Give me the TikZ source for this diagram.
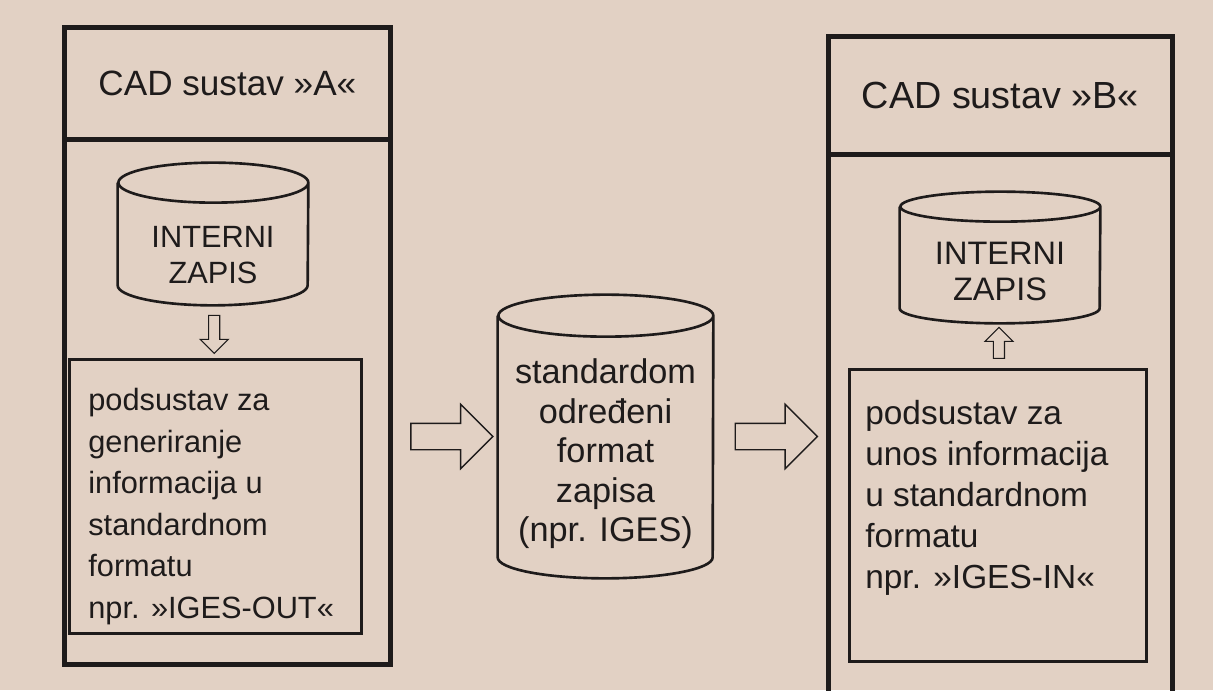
\documentclass[tikz,border=0pt]{standalone}
\usepackage{fontspec}
\setmainfont{Liberation Sans}
\usetikzlibrary{shapes.arrows,calc,positioning}
\definecolor{paper}{RGB}{226,209,196}
\definecolor{ink}{RGB}{30,27,27}

\begin{document}
\begin{tikzpicture}[
			syst/.style = {draw=ink, line width=2.7pt, anchor=north west, inner sep=0pt},
			head/.style = {draw=ink, line width=2.7pt, anchor=north, inner sep=0pt, text=ink},
			db/.style = {inner sep=0pt},
			dbline/.style = {draw=ink, line width=1.5pt},
			dbtext/.style = {align=center, inner sep=0pt, text=ink},
			sub/.style = {draw=ink, line width=1.6pt, anchor=north west, inner sep=0pt},
			subtext/.style = {align=left, anchor=north west, inner sep=0pt, text=ink},
			bigarrow/.style = {draw=ink, line width=0.8pt, single arrow, single arrow head extend=0.38cm,
				inner xsep=0pt, inner ysep=0.25cm, minimum width=0pt, minimum height=1.64cm},
			smallarrow/.style = {draw=ink, line width=0.6pt, single arrow, single arrow head extend=0.17cm,
				inner xsep=0pt, inner ysep=0.1cm, minimum width=0pt}
		]
		\useasboundingbox (0,0) rectangle (24.26,-13.8);
		\fill[paper] (0,0) rectangle (24.26,-13.8);

		% sustav A
		\node[syst, minimum width=6.52cm, minimum height=12.74cm] (sysA) at (1.24,-0.5) {};
		\node[head, minimum width=6.52cm, minimum height=2.24cm, font=\fontsize{20}{24}\selectfont] (headA) at (sysA.north) {CAD sustav »A«};
		\node[db, minimum width=3.8cm, minimum height=2.84cm] (dbA) at (4.26,-4.68) {};
		\node[dbtext, font=\fontsize{17.5}{20}\selectfont] (dbAtxt) at ([yshift=-0.42cm]dbA.center) {INTERNI\\ZAPIS};
		\node[sub, minimum width=5.84cm, minimum height=5.48cm] (outA) at (1.36,-7.16) {};
		\node[subtext, font=\fontsize{17.5}{23.6}\selectfont] (outAtxt) at ([shift={(0.4,-0.6)}]outA.north west)
			{podsustav za\\generiranje\\informacija u\\standardnom\\formatu\\npr. »IGES-OUT«};
		\node[smallarrow, minimum height=0.76cm, rotate=-90] (arA) at ($(dbA.south)!0.5!(outA.north)$) {};

		% standardni zapis
		\node[db, minimum width=4.3cm, minimum height=5.66cm] (std) at (12.11,-8.73) {};
		\node[dbtext, font=\fontsize{19.5}{22.5}\selectfont] (stdtxt) at ([yshift=-0.35cm]std.center)
			{standardom\\određeni\\format\\zapisa\\(npr. IGES)};
		\node[bigarrow] (ar1) at ($(sysA.east |- std.center)!0.5!(std.west)$) {};

		% sustav B
		\node[syst, minimum width=6.88cm, minimum height=13.5cm] (sysB) at (16.52,-0.68) {};
		\node[head, minimum width=6.88cm, minimum height=2.36cm, font=\fontsize{21.5}{25}\selectfont] (headB) at (sysB.north) {CAD sustav »B«};
		\node[db, minimum width=4cm, minimum height=2.62cm] (dbB) at (20,-5.15) {};
		\node[dbtext, font=\fontsize{18.5}{21}\selectfont] (dbBtxt) at ([yshift=-0.28cm]dbB.center) {INTERNI\\ZAPIS};
		\node[sub, minimum width=5.94cm, minimum height=5.84cm] (inB) at (16.96,-7.36) {};
		\node[subtext, font=\fontsize{19}{23.3}\selectfont] (inBtxt) at ([shift={(0.34,-0.64)}]inB.north west)
			{podsustav za\\unos informacija\\u standardnom\\formatu\\npr. »IGES-IN«};
		\node[smallarrow, minimum height=0.62cm, rotate=90] (arB) at ($(inB.north)!0.5!(dbB.south)$) {};
		\node[bigarrow] (ar2) at ($(std.east)!0.5!(sysB.west |- std.east)$) {};

		% cylinder outlines round the db nodes
		\foreach \n/\rx/\ry in {dbA/1.9/0.4, std/2.15/0.42, dbB/2/0.3} {
			\draw[dbline] ([yshift=-\ry cm]\n.north west) -- ([yshift=\ry cm]\n.south west)
				arc[start angle=180, end angle=360, x radius=\rx cm, y radius=\ry cm]
				-- ([yshift=-\ry cm]\n.north east)
				arc[start angle=0, end angle=360, x radius=\rx cm, y radius=\ry cm];
		}
	\end{tikzpicture}
\end{document}
